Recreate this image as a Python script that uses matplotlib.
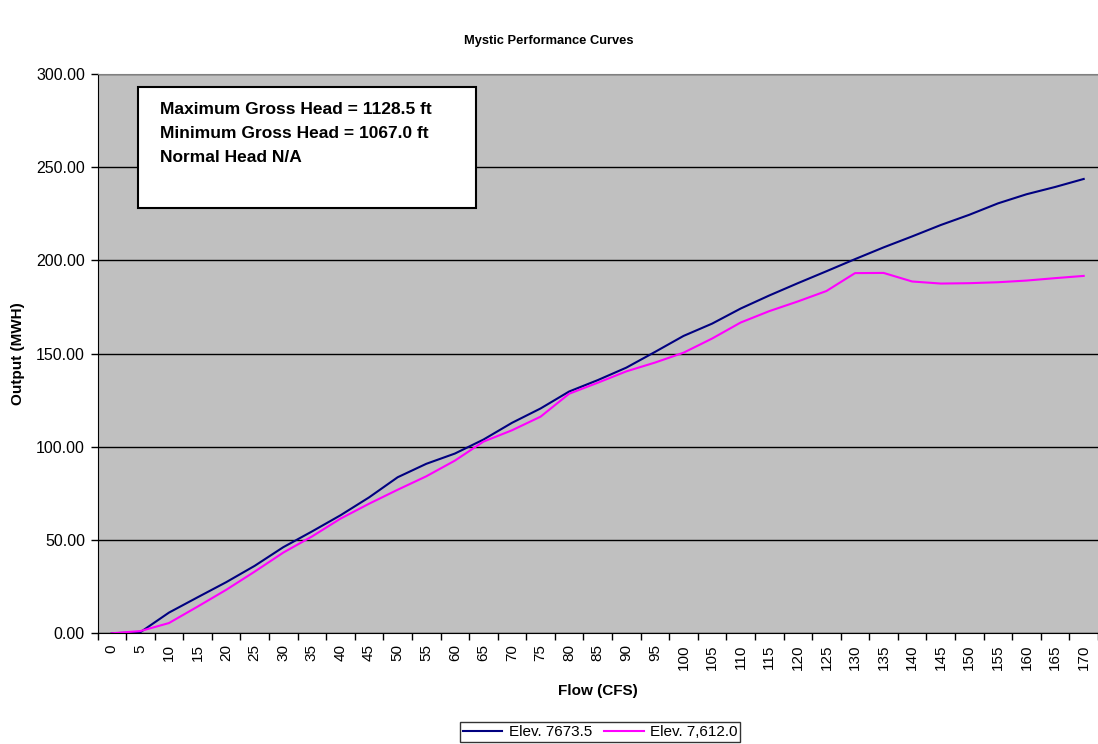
import numpy as np
import matplotlib
matplotlib.use("Agg")
import matplotlib.pyplot as plt
from matplotlib import font_manager
from matplotlib.patches import Rectangle

plt.rcParams["font.family"] = ["Liberation Sans", "DejaVu Sans"]

# narrow face for the title and the head box, if present
_names = {f.name for f in font_manager.fontManager.ttflist}
if "Liberation Sans Narrow" in _names:
    NARROW = ["Liberation Sans Narrow", "Liberation Sans"]
    title_size, box_size = 11, 14.5
else:
    NARROW = ["Liberation Sans"]
    title_size, box_size = 9.3, 12.5

# ── Data ──────────────────────────────────────────────────────────────────
flow = list(range(0, 175, 5))  # CFS, one category per 5 CFS

elev_7673 = [0.0, 0.6, 11.1, 19.3, 27.4, 36.2, 46.2, 54.6, 63.3, 72.9,
             83.7, 90.9, 96.4, 103.9, 112.9, 120.6, 129.7, 135.8, 142.5, 150.9,
             159.5, 166.1, 174.2, 181.2, 187.8, 194.2, 200.7, 207.0, 212.9, 219.0,
             224.5, 230.6, 235.5, 239.4, 243.7]

elev_7612 = [0.0, 1.2, 5.5, 14.3, 23.3, 33.1, 43.3, 51.9, 61.5, 69.5,
             77.0, 84.2, 92.6, 102.8, 108.9, 116.2, 128.5, 134.4, 140.5, 145.2,
             150.5, 158.1, 166.7, 172.8, 178.0, 183.6, 193.2, 193.3, 188.7, 187.6,
             187.8, 188.3, 189.2, 190.5, 191.7]

info_lines = ["Maximum Gross Head = 1128.5 ft",
              "Minimum Gross Head = 1067.0 ft",
              "Normal Head N/A"]

W, H = 1098, 744
fig = plt.figure(figsize=(W / 100, H / 100), dpi=100)

# plot area in pixel terms
left, right, top, bottom = 97.5, 1098, 74, 633.3
ax = fig.add_axes([left / W, 1 - bottom / H, (right - left) / W, (bottom - top) / H])
ax.set_facecolor("#C0C0C0")

x = np.arange(len(flow))
ax.plot(x, elev_7673, color="#000080", lw=1.5, label="Elev. 7673.5")
ax.plot(x, elev_7612, color="#FF00FF", lw=1.5, label="Elev. 7,612.0")

ax.set_xlim(-0.5, len(flow) - 0.5)
ax.set_ylim(0, 300)

# category labels centred, tick marks between categories
ax.set_xticks(x)
ax.set_xticklabels([str(f) for f in flow], rotation=90, fontsize=11)
ax.tick_params(axis="x", which="major", length=0, pad=8)
ax.set_xticks(np.arange(len(flow) + 1) - 0.5, minor=True)
ax.tick_params(axis="x", which="minor", length=5, width=1, direction="out")

yt = np.arange(0, 301, 50)
ax.set_yticks(yt)
ax.set_yticklabels([f"{v:.2f}" for v in yt], fontsize=11.5)
ax.tick_params(axis="y", length=5, width=1, direction="out", pad=4)

ax.grid(axis="y", color="black", lw=1)
ax.set_axisbelow(True)

ax.spines["left"].set_color("black")
ax.spines["bottom"].set_color("black")
ax.spines["top"].set_color("#808080")
ax.spines["right"].set_visible(False)

ax.set_xlabel("Flow (CFS)", fontsize=11, fontweight="bold", labelpad=10)
ax.set_ylabel("Output (MWH)", fontsize=11, fontweight="bold", labelpad=8)

fig.text(549 / W, 1 - 41 / H, "Mystic Performance Curves", ha="center", va="center",
         fontsize=title_size, fontweight="bold", family=NARROW)

# head info box
box = Rectangle((138 / W, 1 - 208 / H), (476 - 138) / W, (208 - 87) / H,
                transform=fig.transFigure, facecolor="white", edgecolor="black", lw=1.5)
fig.patches.append(box)
for i, line in enumerate(info_lines):
    fig.text(160 / W, 1 - (110 + 24 * i) / H, line, ha="left", va="center",
             fontsize=box_size, fontweight="bold", family=NARROW)

leg = fig.legend(loc="center", bbox_to_anchor=(600 / W, 1 - 732 / H), ncol=2,
                 fontsize=11, frameon=True, fancybox=False, edgecolor="black",
                 handlelength=2.6, handletextpad=0.4, columnspacing=0.8,
                 borderpad=0.2, borderaxespad=0)
leg.get_frame().set_linewidth(1)

fig.savefig("out.png", dpi=100)
